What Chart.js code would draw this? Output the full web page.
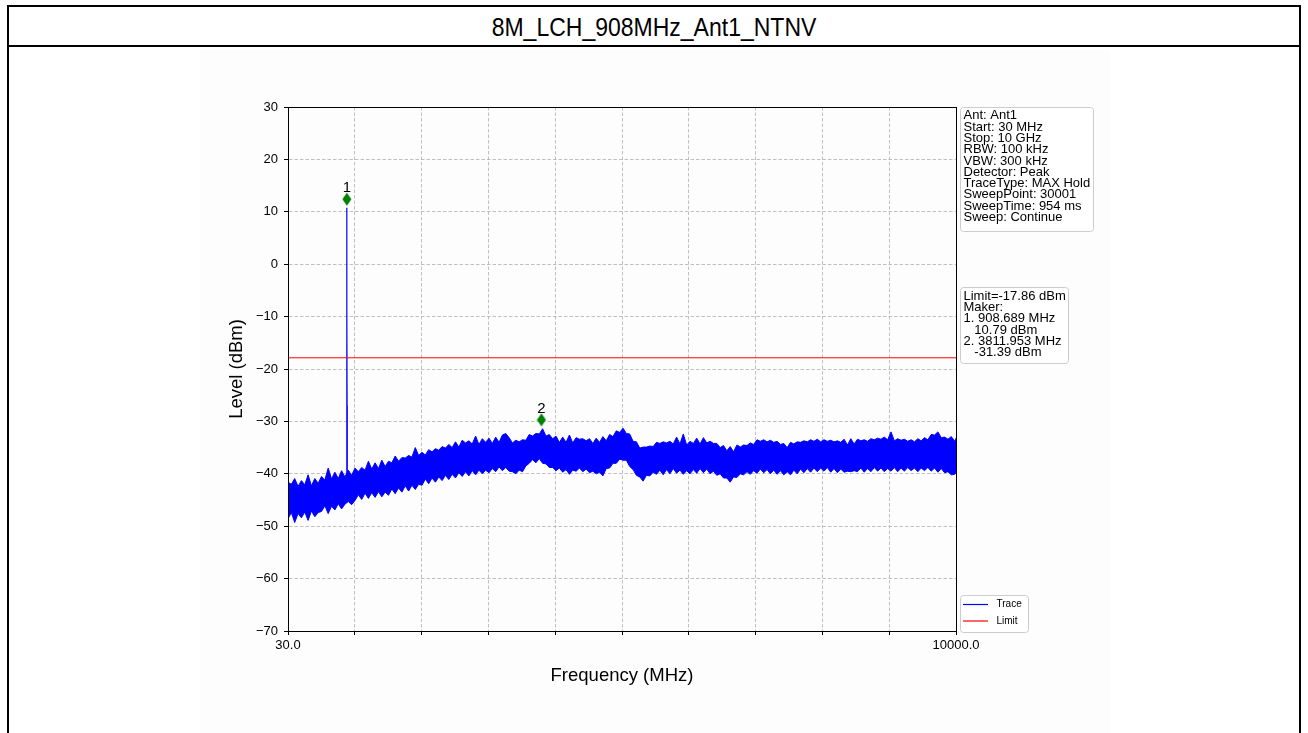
<!DOCTYPE html>
<html>
<head>
<meta charset="utf-8">
<title>8M_LCH_908MHz_Ant1_NTNV</title>
<script src="https://cdn.jsdelivr.net/npm/chart.js@4.4.0/dist/chart.umd.min.js"></script>
<style>
  html, body { margin: 0; padding: 0; background: #fff; overflow: hidden; }
  body { width: 1308px; height: 733px; position: relative; font-family: "Liberation Sans", Arial, sans-serif; }
  #figbg { position: absolute; left: 200px; top: 50px; width: 910px; height: 683px; background: #fdfdfd; }
  #frame { position: absolute; left: 7px; top: 5px; width: 1290px; height: 780px; border: 2px solid #000; }
  #header { height: 38px; border-bottom: 2px solid #000; text-align: center; font-size: 23px; line-height: 40px; }
  #header span { display: inline-block; transform: scaleY(1.1); }
  #wrap { position: absolute; left: 0; top: 0; width: 1308px; height: 733px; }
</style>
</head>
<body>
<div id="figbg"></div>
<div id="frame"><div id="header"><span>8M_LCH_908MHz_Ant1_NTNV</span></div></div>
<div id="wrap"><canvas id="spectrum"></canvas></div>
<script>
// sweep frequencies (MHz) and the max-hold trace envelope (dBm)
const freqMHz = [
  30, 80, 130, 180, 230, 280, 330, 380, 430, 480,
  530, 580, 630, 680, 730, 780, 830, 880, 930, 980,
  1030, 1080, 1130, 1180, 1230, 1280, 1330, 1380, 1430, 1480,
  1530, 1580, 1630, 1680, 1730, 1780, 1830, 1880, 1930, 1980,
  2030, 2080, 2130, 2180, 2230, 2280, 2330, 2380, 2430, 2480,
  2530, 2580, 2630, 2680, 2730, 2780, 2830, 2880, 2930, 2980,
  3030, 3080, 3130, 3180, 3230, 3280, 3330, 3380, 3430, 3480,
  3530, 3580, 3630, 3680, 3730, 3780, 3830, 3880, 3930, 3980,
  4030, 4080, 4130, 4180, 4230, 4280, 4330, 4380, 4430, 4480,
  4530, 4580, 4630, 4680, 4730, 4780, 4830, 4880, 4930, 4980,
  5030, 5080, 5130, 5180, 5230, 5280, 5330, 5380, 5430, 5480,
  5530, 5580, 5630, 5680, 5730, 5780, 5830, 5880, 5930, 5980,
  6030, 6080, 6130, 6180, 6230, 6280, 6330, 6380, 6430, 6480,
  6530, 6580, 6630, 6680, 6730, 6780, 6830, 6880, 6930, 6980,
  7030, 7080, 7130, 7180, 7230, 7280, 7330, 7380, 7430, 7480,
  7530, 7580, 7630, 7680, 7730, 7780, 7830, 7880, 7930, 7980,
  8030, 8080, 8130, 8180, 8230, 8280, 8330, 8380, 8430, 8480,
  8530, 8580, 8630, 8680, 8730, 8780, 8830, 8880, 8930, 8980,
  9030, 9080, 9130, 9180, 9230, 9280, 9330, 9380, 9430, 9480,
  9530, 9580, 9630, 9680, 9730, 9780, 9830, 9880, 9930, 9980,
  10000
];
const traceTop = [
  -41.6, -42.0, -40.9, -42.4, -41.3, -42.1, -40.2, -42.3, -40.9, -41.8,
  -40.5, -41.2, -38.9, -41.0, -39.7, -40.9, -39.4, -40.6, -39.3, -40.3,
  -38.9, -39.6, -38.8, -39.3, -37.6, -39.1, -37.9, -39.0, -37.4, -38.6,
  -37.6, -37.9, -36.6, -37.6, -36.9, -37.0, -36.5, -36.8, -35.0, -36.5,
  -35.9, -36.4, -35.4, -35.8, -35.2, -35.5, -34.8, -35.1, -34.4, -35.0,
  -33.9, -34.9, -33.6, -34.1, -33.7, -34.3, -32.8, -34.4, -33.3, -34.0,
  -33.2, -34.2, -33.0, -34.0, -32.6, -32.3, -33.1, -34.1, -33.6, -33.9,
  -33.5, -33.6, -32.5, -32.8, -32.3, -32.4, -31.4, -32.8, -32.5, -33.3,
  -32.8, -34.0, -33.0, -34.0, -32.6, -34.1, -33.1, -33.4, -33.3, -33.7,
  -33.3, -34.2, -33.2, -34.0, -32.9, -33.7, -32.5, -32.9, -31.8, -32.1,
  -31.3, -32.3, -32.4, -33.8, -33.9, -35.1, -34.9, -34.9, -34.7, -34.8,
  -34.0, -34.2, -33.9, -34.1, -33.8, -34.3, -33.0, -34.3, -32.4, -34.5,
  -33.8, -34.2, -33.2, -34.3, -33.1, -34.1, -33.8, -34.2, -34.2, -35.0,
  -34.6, -35.6, -34.8, -35.8, -34.5, -34.9, -34.5, -34.6, -34.1, -34.4,
  -33.5, -33.8, -33.5, -33.9, -33.6, -34.0, -33.8, -34.4, -34.2, -35.0,
  -34.0, -34.3, -33.9, -34.0, -33.7, -33.9, -33.5, -33.8, -33.4, -33.9,
  -33.5, -33.8, -33.6, -33.9, -33.7, -34.0, -33.4, -34.5, -33.3, -34.3,
  -33.4, -33.7, -33.5, -33.8, -33.3, -33.5, -33.2, -33.4, -33.0, -33.5,
  -32.0, -33.7, -33.3, -33.6, -33.4, -33.8, -33.5, -33.9, -33.3, -33.7,
  -33.1, -33.5, -32.5, -32.6, -32.0, -33.1, -33.0, -33.4, -32.9, -33.8,
  -33.2
];
const traceBottom = [
  -48.6, -47.4, -49.3, -47.6, -48.4, -47.3, -48.9, -47.1, -48.2, -47.4,
  -47.2, -46.1, -47.6, -46.2, -46.9, -45.7, -46.7, -45.8, -45.3, -45.9,
  -45.1, -44.0, -44.9, -43.7, -44.7, -43.6, -44.5, -43.4, -44.4, -43.5,
  -44.1, -42.9, -43.8, -42.7, -43.5, -42.3, -43.3, -42.2, -43.0, -42.0,
  -42.2, -41.0, -41.9, -40.8, -41.6, -40.6, -41.3, -40.3, -41.1, -40.1,
  -40.8, -39.8, -40.5, -39.6, -40.4, -39.4, -40.2, -39.3, -40.0, -39.3,
  -39.8, -39.0, -39.6, -38.7, -39.4, -38.8, -39.5, -39.6, -40.0, -39.3,
  -39.6, -38.5, -38.0, -37.3, -37.9, -37.1, -38.0, -38.1, -38.8, -38.8,
  -39.4, -38.9, -39.7, -39.2, -40.1, -39.3, -39.5, -38.9, -39.6, -39.1,
  -39.8, -39.5, -40.0, -39.7, -40.4, -39.0, -38.9, -38.0, -38.0, -37.2,
  -37.4, -37.4, -38.6, -39.2, -40.3, -40.6, -41.4, -40.3, -40.4, -39.7,
  -40.1, -39.3, -40.2, -39.2, -40.0, -39.0, -39.9, -39.3, -40.1, -39.4,
  -40.0, -39.2, -39.9, -39.0, -39.8, -39.1, -40.0, -39.5, -40.3, -40.0,
  -40.8, -40.8, -41.6, -40.6, -40.7, -40.0, -40.2, -39.6, -40.1, -39.4,
  -39.9, -39.1, -39.8, -39.2, -40.0, -39.3, -40.1, -39.4, -40.2, -39.6,
  -40.2, -39.3, -40.0, -39.1, -39.8, -39.0, -39.7, -38.9, -39.6, -38.9,
  -39.5, -38.8, -39.7, -39.0, -39.8, -39.1, -39.7, -39.5, -39.6, -39.4,
  -39.6, -38.9, -39.7, -39.0, -39.6, -38.8, -39.5, -38.9, -39.6, -39.0,
  -39.5, -38.8, -39.6, -38.9, -39.5, -38.8, -39.4, -38.9, -39.6, -38.9,
  -39.4, -38.8, -39.5, -38.9, -39.7, -39.0, -39.8, -39.6, -40.2, -40.1,
  -39.8
];
// carrier spike around marker 1
const peakFreq = [903, 905.5, 907.5, 908.689, 910, 912, 914.5];
const peakLevel = [-41.5, -27, -8, 10.79, -8, -27, -41.5];

const limitLevel = -17.86;
const markerFreq = [908.689, 3811.953];
const markerLevel = [12.4, -29.7];
const markerNames = ['1', '2'];

const xTickValues = [30, 1027, 2024, 3021, 4018, 5015, 6012, 7009, 8006, 9003, 10000];
const xTickLabels = { 30: '30.0', 10000: '10000.0' };

const infoLines = [
  'Ant: Ant1', 'Start: 30 MHz', 'Stop: 10 GHz', 'RBW: 100 kHz', 'VBW: 300 kHz',
  'Detector: Peak', 'TraceType: MAX Hold', 'SweepPoint: 30001', 'SweepTime: 954 ms', 'Sweep: Continue'
];
const limitLines = [
  'Limit=-17.86 dBm', 'Maker:', '1. 908.689 MHz', '   10.79 dBm', '2. 3811.953 MHz', '   -31.39 dBm'
];
const legendItems = [['Trace', '#0000ff'], ['Limit', '#ff0000']];

const FONT = '"Liberation Sans", Arial, sans-serif';
Chart.defaults.color = '#000';
Chart.defaults.font.family = FONT;

// thin green diamond used for the markers
const diamond = document.createElement('canvas');
diamond.width = 10; diamond.height = 14;
(function() {
    const c = diamond.getContext('2d');
    c.fillStyle = '#008000';
    c.beginPath();
    c.moveTo(5, 0.5); c.lineTo(9.5, 7); c.lineTo(5, 13.5); c.lineTo(0.5, 7);
    c.closePath();
    c.fill();
})();

function drawBox(ctx, x, y, w, h) {
    ctx.save();
    ctx.fillStyle = 'rgba(255,255,255,0.85)';
    ctx.strokeStyle = '#cccccc';
    ctx.lineWidth = 1;
    ctx.beginPath();
    if (ctx.roundRect) ctx.roundRect(x + 0.5, y + 0.5, w, h, 3); else ctx.rect(x + 0.5, y + 0.5, w, h);
    ctx.fill();
    ctx.stroke();
    ctx.restore();
}

const overlay = {
    id: 'overlay',
    afterDraw(chart) {
        const ctx = chart.ctx;
        const a = chart.chartArea;
        const xs = chart.scales.x, ys = chart.scales.y;
        ctx.save();

        // axes frame
        ctx.strokeStyle = '#000';
        ctx.lineWidth = 1;
        ctx.strokeRect(a.left + 0.5, a.top + 0.5, a.right - a.left, a.bottom - a.top);

        // marker numbers
        ctx.fillStyle = '#000';
        ctx.font = '15px ' + FONT;
        ctx.textAlign = 'center';
        ctx.textBaseline = 'alphabetic';
        markerFreq.forEach((f, i) => {
            ctx.fillText(markerNames[i], xs.getPixelForValue(f), ys.getPixelForValue(markerLevel[i]) - 7);
        });

        // axis titles
        ctx.font = '18.5px ' + FONT;
        ctx.textBaseline = 'middle';
        ctx.fillText('Frequency (MHz)', (a.left + a.right) / 2, 676);
        ctx.save();
        ctx.translate(237, (a.top + a.bottom) / 2);
        ctx.rotate(-Math.PI / 2);
        ctx.fillText('Level (dBm)', 0, 0);
        ctx.restore();

        // settings box
        const bx = a.right + 4;
        drawBox(ctx, bx, a.top, 133, 124);
        ctx.font = '13px ' + FONT;
        ctx.textAlign = 'left';
        ctx.textBaseline = 'alphabetic';
        infoLines.forEach((t, i) => ctx.fillText(t, bx + 3.5, a.top + 12.3 + i * 11.3));

        // limit / marker box
        drawBox(ctx, bx, 287, 108, 76);
        limitLines.forEach((t, i) => ctx.fillText(t, bx + 3.5, 300 + i * 11.2));

        // legend
        drawBox(ctx, bx, 595, 68, 37);
        ctx.font = '10px ' + FONT;
        ctx.textBaseline = 'middle';
        legendItems.forEach(([name, color], i) => {
            const ly = 604.5 + i * 16.5;
            ctx.strokeStyle = color;
            ctx.lineWidth = 1.2;
            ctx.beginPath();
            ctx.moveTo(bx + 3, ly); ctx.lineTo(bx + 28, ly);
            ctx.stroke();
            ctx.fillText(name, bx + 36.5, ly);
        });
        ctx.restore();
    }
};

new Chart(document.getElementById('spectrum').getContext('2d'), {
    type: 'line',
    data: {
        datasets: [
            {
                label: 'Markers',
                type: 'scatter',
                data: markerFreq.map((f, i) => ({ x: f, y: markerLevel[i] })),
                pointStyle: diamond,
                pointRadius: 5,
                order: 0
            },
            {
                label: 'Limit',
                data: [{ x: 30, y: limitLevel }, { x: 10000, y: limitLevel }],
                borderColor: '#ff0000',
                borderWidth: 1,
                pointRadius: 0,
                order: 1
            },
            {
                label: 'Peak',
                data: peakFreq.map((f, i) => ({ x: f, y: peakLevel[i] })),
                borderColor: '#0000ff',
                borderWidth: 1.2,
                pointRadius: 0,
                order: 2
            },
            {
                label: 'Trace',
                data: freqMHz.map((f, i) => ({ x: f, y: traceTop[i] })),
                borderColor: '#0000ff',
                backgroundColor: '#0000ff',
                borderWidth: 1,
                pointRadius: 0,
                fill: '+1',
                order: 3
            },
            {
                label: 'Trace low',
                data: freqMHz.map((f, i) => ({ x: f, y: traceBottom[i] })),
                borderColor: '#0000ff',
                borderWidth: 1,
                pointRadius: 0,
                order: 4
            }
        ]
    },
    options: {
        responsive: true,
        maintainAspectRatio: false,
        animation: false,
        layout: { padding: { left: 228, top: 107, right: 352, bottom: 42 } },
        plugins: {
            legend: { display: false },
            tooltip: { enabled: false }
        },
        scales: {
            x: {
                type: 'linear',
                min: 30,
                max: 10000,
                afterBuildTicks: function(axis) {
                    axis.ticks = xTickValues.map(v => ({ value: v }));
                },
                afterFit: function(scale) { scale.height = 60; },
                ticks: {
                    autoSkip: false,
                    maxRotation: 0,
                    padding: 3,
                    font: { size: 13 },
                    callback: function(v) { return xTickLabels[v] || ''; }
                },
                grid: {
                    color: '#b0b0b0',
                    lineWidth: 0.8,
                    tickColor: '#000',
                    tickLength: 4,
                    tickWidth: 1
                },
                border: { color: '#000', width: 1, dash: [3.5, 2] }
            },
            y: {
                min: -70,
                max: 30,
                afterFit: function(scale) { scale.width = 60; },
                ticks: {
                    stepSize: 10,
                    padding: 6,
                    font: { size: 13 },
                    callback: function(v) { return String(v).replace('-', '\u2212'); }
                },
                grid: {
                    color: '#b0b0b0',
                    lineWidth: 0.8,
                    tickColor: '#000',
                    tickLength: 4,
                    tickWidth: 1
                },
                border: { color: '#000', width: 1, dash: [3.5, 2] }
            }
        }
    },
    plugins: [overlay]
});
</script>
</body>
</html>
